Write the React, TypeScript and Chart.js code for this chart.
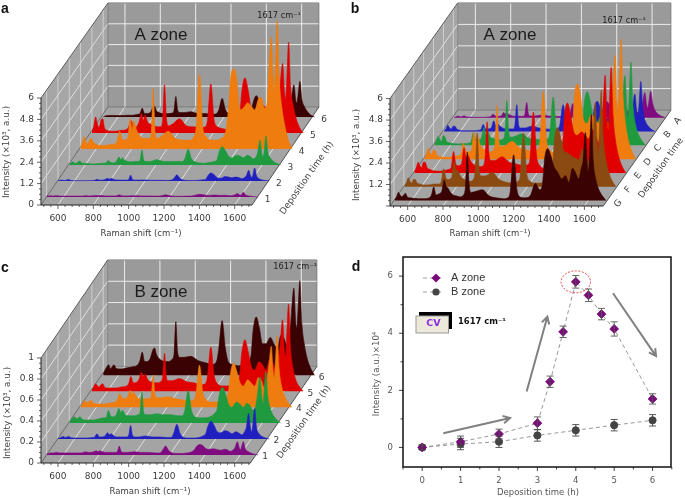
import React, { useEffect, useRef } from "react";
import { Chart, registerables } from "chart.js";

Chart.register(...registerables);

const ramanShift = [
  504, 515, 525, 535, 545, 555, 565, 575, 590,
  610, 640, 670, 700, 712, 725, 738, 750, 770,
  785, 795, 805, 820, 835, 855, 875,
  893, 905, 915, 925, 937,
  960, 1000, 1040, 1080, 1120, 1145,
  1158, 1177, 1196, 1215, 1240,
  1270, 1300, 1325, 1340,
  1352, 1370, 1388, 1405,
  1425, 1450, 1470, 1490, 1510, 1525, 1545, 1560,
  1570, 1583, 1594, 1600, 1606, 1617, 1628, 1642,
  1660, 1680, 1700,
];

// Panel a
const a1 = [.06,.06,.07,.06,.06,.07,.07,.06,.05, .05,.05,.05,.05,.06,.08,.06,.06,.07, .08,.07,.08,.07,.06,.06,.06, .06,.08,.12,.08,.06, .06,.07,.06,.06,.05,.05, .08,.12,.08,.05,.04, .04,.05,.06,.08, .12,.15,.13,.1, .09,.11,.1,.09,.1,.09,.07,.09, .12,.2,.12,.1,.13,.26,.12,.07, .04,.02,0];
const a2 = [.02,.04,.06,.04,.03,.07,.08,.04,.02, .02,.02,.02,.03,.04,.1,.05,.05,.08, .15,.1,.15,.08,.06,.05,.05, .05,.1,.33,.1,.05, .05,.06,.04,.04,.03,.05, .12,.35,.12,.05,.03, .03,.04,.07,.1, .3,.45,.35,.18, .15,.25,.22,.18,.22,.2,.13,.2, .3,.6,.28,.2,.3,.73,.28,.13, .06,.03,0];
const a3 = [.05,.12,.18,.1,.1,.2,.22,.1,.1, .08,.06,.08,.1,.12,.25,.15,.12,.2, .45,.3,.4,.25,.2,.18,.2, .2,.3,.84,.3,.2, .2,.3,.2,.2,.2,.2, .35,.88,.35,.18,.12, .1,.15,.2,.3, .75,1.03,.8,.5, .4,.55,.5,.4,.55,.5,.35,.45, .7,1.4,.6,.45,.7,1.63,.7,.4, .2,.08,0];
const a4 = [.1,.4,.7,.4,.3,.5,.6,.4,.3, .2,.2,.25,.3,.5,1.0,.6,.5,.6, 1.7,1.1,1.6,1.1,.8,.6,.6, .6,1.0,3.4,1.0,.6, .7,1.0,.6,.5,.5,.7, 1.2,4.2,1.2,.7,.5, .5,.6,1.0,2.2, 3.9,4.5,3.9,2.2, 2.3,2.6,2.4,2.2,2.8,2.9,2.3,2.6, 4.5,6.3,4,3.2,4.5,7.2,4.0,2.4, 1.3,.5,.05];
const a5 = [.05,.4,.9,.5,.3,.7,.8,.3,.15, .1,.1,.15,.2,.35,.7,.4,.3,.6, 1.1,.7,1.0,.6,.5,.4,.35, .35,.8,2.7,.9,.4, .5,.8,.4,.35,.3,.35, .7,2.75,.7,.35,.25, .2,.3,.6,.9, 2.3,3.1,2.4,1.4, 1.2,1.7,1.6,1.4,2.0,1.9,1.5,1.7, 2.8,3.9,2.3,1.9,2.8,5.1,2.6,1.6, .8,.3,0];
const a6 = [.02,.05,.08,.08,.1,.08,.1,.08,.08, .08,.1,.1,.15,.2,.5,.2,.2,.25, .55,.6,.35,.25,.2,.18,.2, .22,.4,1.15,.4,.25, .25,.3,.2,.2,.15,.2, .4,1.05,.4,.2,.15, .12,.15,.2,.3, .8,1.2,.9,.5, .5,.6,.55,.5,.8,.7,.55,.7, 1.1,1.8,.9,.8,1.2,2.0,1.0,.6, .3,.1,0];

// Panel b
const bG = [.05,.2,.45,.3,.2,.3,.4,.2,.15, .12,.1,.1,.15,.3,.75,.3,.35,.5, 1.15,.8,.7,.45,.3,.25,.2, .3,.8,2.7,.9,.45, .5,.6,.25,.15,.1,.15, .5,2.55,.6,.2,.15, .25,.95,.6,.9, 2.3,2.9,2.5,1.9, 1.6,1.2,1.4,1.0,1.8,1.6,1.2,1.8, 2.2,3.8,2.0,1.6,2.4,4.8,2.2,1.2, .6,.25,0];
const bF = [.05,.2,.5,.3,.2,.4,.4,.2,.15, .1,.1,.15,.15,.3,1.0,.5,.4,.5, 1.4,.9,.9,.6,.45,.35,.3, .4,1.0,3.0,1.1,.6, .6,.8,.4,.25,.2,.3, .6,3.0,.7,.3,.2, .2,.3,.6,1.0, 2.6,3.3,2.7,2.0, 1.9,1.7,1.6,1.5,2.1,1.9,1.4,2.0, 2.6,4.7,2.4,1.9,3.0,5.4,2.8,1.6, .8,.3,0];
const bE = [.05,.3,.6,.4,.3,.6,.6,.3,.2, .12,.1,.12,.2,.3,1.2,.5,.4,.5, 1.4,.9,1.0,.7,.5,.4,.35, .4,1.0,2.85,1.1,.7, .7,.9,.6,.5,.4,.45, .8,3.4,.9,.4,.25, .25,.3,.8,1.2, 3.1,3.9,3.2,2.3, 2.1,2.3,2.1,1.9,2.4,2.2,1.7,2.4, 3.4,5.45,3.0,2.4,3.5,5.9,3.2,1.8, .9,.35,0];
const bD = [.05,.25,.6,.35,.25,.5,.5,.25,.15, .1,.1,.15,.2,.3,.9,.5,.4,.5, 1.5,1.0,1.3,.8,.6,.5,.4, .5,1.0,3.0,1.1,.7, .75,1.0,.65,.5,.45,.55, 1.0,3.8,1.0,.5,.35, .3,.5,.8,1.3, 3.4,4.2,3.5,2.2, 2.0,2.5,2.2,2.0,2.6,2.5,1.9,2.5, 3.8,5.8,3.2,2.6,3.8,6.7,3.6,2.0, 1.0,.4,0];
const bC = [.05,.2,.5,.35,.2,.55,.45,.2,.15, .1,.08,.1,.12,.2,.7,.35,.3,.4, 1.0,.6,.8,.5,.4,.35,.3, .35,.8,2.5,.8,.45, .5,.65,.4,.35,.3,.35, .7,2.7,.7,.3,.2, .2,.3,.55,.9, 2.3,3.0,2.4,1.5, 1.3,1.7,1.5,1.3,1.8,1.7,1.2,1.7, 2.6,3.9,2.1,1.6,2.5,4.65,2.3,1.2, .6,.25,0];
const bB = [.03,.15,.35,.2,.15,.3,.3,.15,.08, .05,.05,.05,.08,.12,.4,.15,.15,.2, .6,.35,.45,.3,.2,.15,.15, .15,.4,1.5,.4,.2, .2,.3,.2,.15,.12,.15, .35,1.5,.35,.15,.1, .08,.12,.25,.4, 1.2,1.7,1.3,.8, .7,.9,.8,.7,1.0,.9,.6,.9, 1.4,2.1,1.1,.9,1.4,2.8,1.3,.6, .3,.1,0];
const bA = [.02,.05,.1,.07,.05,.1,.1,.05,.04, .03,.03,.03,.05,.08,.2,.1,.08,.1, .3,.2,.25,.15,.1,.08,.08, .08,.2,.85,.2,.1, .1,.15,.1,.08,.06,.08, .2,.8,.2,.08,.05, .05,.07,.12,.2, .6,.9,.65,.4, .35,.45,.4,.35,.5,.45,.3,.45, .75,1.4,.7,.55,.85,1.5,.8,.4, .2,.08,0];

// Panel c
const c1 = [.01,.015,.02,.02,.02,.025,.025,.02,.02, .02,.02,.02,.02,.025,.03,.025,.025,.03, .04,.03,.04,.03,.025,.025,.025, .025,.035,.085,.035,.025, .025,.03,.025,.025,.02,.02, .04,.085,.04,.02,.015, .015,.02,.03,.05, .08,.1,.09,.06, .055,.06,.05,.045,.055,.05,.035,.05, .07,.127,.07,.05,.07,.127,.06,.035, .02,.008,0];
const c2 = [.005,.01,.02,.025,.015,.02,.025,.015,.01, .01,.01,.01,.015,.02,.05,.02,.02,.03, .06,.04,.05,.03,.02,.02,.02, .02,.04,.13,.04,.02, .02,.03,.02,.02,.015,.015, .05,.14,.05,.015,.01, .01,.015,.03,.05, .12,.17,.13,.07, .06,.08,.07,.05,.07,.06,.04,.07, .11,.245,.1,.07,.12,.29,.11,.05, .025,.01,0];
const c3 = [.01,.03,.05,.06,.04,.05,.06,.04,.03, .03,.03,.04,.05,.05,.12,.07,.06,.08, .14,.1,.12,.08,.07,.07,.07, .08,.1,.3,.1,.08, .08,.09,.08,.08,.07,.07, .12,.31,.12,.06,.05, .05,.06,.09,.13, .26,.34,.28,.18, .15,.2,.18,.15,.19,.17,.12,.17, .28,.44,.24,.18,.28,.49,.25,.14, .07,.03,0];
const c4 = [.01,.03,.06,.05,.04,.06,.06,.04,.03, .03,.03,.04,.05,.07,.13,.09,.08,.1, .16,.12,.14,.1,.08,.08,.08, .08,.12,.3,.12,.09, .09,.1,.08,.07,.06,.07, .14,.4,.14,.07,.05, .05,.06,.09,.14, .32,.42,.34,.24, .2,.26,.23,.2,.28,.26,.18,.28, .4,.58,.34,.28,.42,.68,.36,.2, .1,.04,0];
const c5 = [.01,.04,.07,.05,.04,.06,.07,.04,.03, .03,.03,.04,.05,.07,.14,.08,.08,.11, .18,.14,.16,.11,.09,.08,.08, .09,.14,.36,.14,.1, .1,.12,.09,.08,.06,.07, .14,.42,.15,.07,.05, .05,.06,.1,.15, .36,.49,.38,.24, .2,.28,.25,.2,.3,.28,.2,.3, .45,.68,.38,.33,.5,.83,.42,.22, .1,.04,0];
const c6 = [.01,.05,.08,.1,.06,.08,.1,.07,.06, .06,.07,.08,.1,.14,.22,.13,.13,.16, .24,.26,.2,.16,.14,.13,.13, .15,.2,.51,.22,.17, .17,.18,.14,.12,.1,.13, .25,.52,.25,.12,.1, .09,.1,.13,.18, .42,.555,.45,.3, .3,.36,.3,.26,.38,.36,.28,.4, .6,.83,.5,.45,.6,.9,.5,.3, .15,.06,0];

// Panel d
const timeA = [0, 1, 2, 3, 3.33, 3.67, 4, 4.33, 4.67, 5, 6];
const intensityA = [0, 0.2, 0.47, 0.85, 2.3, 4.05, 5.8, 5.33, 4.67, 4.15, 1.7];
const errorA = [0.08, 0.2, 0.17, 0.22, 0.2, 0.2, 0.22, 0.22, 0.2, 0.25, 0.18];
const timeB = [0, 1, 2, 3, 4, 5, 6];
const intensityB = [0, 0.12, 0.2, 0.42, 0.6, 0.78, 0.95];
const errorB = [0.08, 0.2, 0.2, 0.2, 0.2, 0.2, 0.2];
const arrowsD = [
  [0.55, 0.5, 2.29, 1.03],
  [2.72, 1.96, 3.26, 4.58],
  [4.97, 5.4, 6.09, 3.2],
];

const xTicks3d = [600, 800, 1000, 1200, 1400, 1600];
const yTicksAB = [0, 1.2, 2.4, 3.6, 4.8, 6];
const yTicksB = [1.2, 2.4, 3.6, 4.8, 6];
const yTicksC = [0, 0.2, 0.4, 0.6, 0.8, 1];
const xTicksD = [0, 1, 2, 3, 4, 5, 6];
const yTicksD = [0, 2, 4, 6];

const PURPLE = "#800a80";
const BLUE = "#2020c0";
const GREEN = "#1f9a3e";
const ORANGE = "#ee7c0e";
const RED = "#e00000";
const BROWN = "#8a4a12";
const MAROON = "#3a0202";
const TEXT = "#3c3c3c";
const SANS = "'DejaVu Sans'";

type Layer = { label: string; color: string; values: number[] };
type Panel = {
  letter: string; zone: string; left: number; top: number; w: number; h: number;
  plot: { l: number; r: number; t: number; b: number };
  xMin: number; xMax: number; yMax: number;
  wallX: number; wallY: number; stepX: number; stepY: number; first: number;
  yTicks: number[]; yGrid: number[]; yMinor: number;
  layers: Layer[];
  labelDx: number; labelDy: number; labelAngle: number;
  depthTitle: string; depthPos: [number, number];
  peakPos: [number, number]; zonePos: [number, number]; letterPos: [number, number];
  xTitlePos: [number, number]; yTitlePos: [number, number];
};

const panelA: Panel = {
  letter: "a", zone: "A zone", left: 0, top: 0, w: 345, h: 245,
  plot: { l: 41, r: 319, t: 3, b: 205 },
  xMin: 504, xMax: 2077, yMax: 11.33,
  wallX: 379, wallY: 5.5, stepX: 64, stepY: 0.897, first: 0.5,
  yTicks: yTicksAB, yGrid: yTicksAB, yMinor: 0.3,
  layers: [
    { label: "1", color: PURPLE, values: a1 }, { label: "2", color: BLUE, values: a2 },
    { label: "3", color: GREEN, values: a3 }, { label: "4", color: ORANGE, values: a4 },
    { label: "5", color: RED, values: a5 }, { label: "6", color: MAROON, values: a6 },
  ],
  labelDx: 10, labelDy: 3, labelAngle: 0,
  depthTitle: "Deposition time (h)", depthPos: [307, 178],
  peakPos: [279, 16], zonePos: [161, 35], letterPos: [5, 9],
  xTitlePos: [141, 234], yTitlePos: [7, 152],
};

const panelB: Panel = {
  letter: "b", zone: "A zone", left: 345, top: 0, w: 340, h: 245,
  plot: { l: 45, r: 326, t: 3, b: 206 },
  xMin: 500, xMax: 2090, yMax: 11.34,
  wallX: 383, wallY: 5.36, stepX: 56, stepY: 0.77, first: 0.4,
  yTicks: yTicksB, yGrid: yTicksAB, yMinor: 0.3,
  layers: [
    { label: "G", color: MAROON, values: bG }, { label: "F", color: BROWN, values: bF },
    { label: "E", color: RED, values: bE }, { label: "D", color: ORANGE, values: bD },
    { label: "C", color: GREEN, values: bC }, { label: "B", color: BLUE, values: bB },
    { label: "A", color: PURPLE, values: bA },
  ],
  labelDx: 11, labelDy: 3, labelAngle: -50,
  depthTitle: "Deposition time", depthPos: [316, 168],
  peakPos: [279, 21], zonePos: [165, 35], letterPos: [10, 9],
  xTitlePos: [145, 234], yTitlePos: [12, 155],
};

const panelC: Panel = {
  letter: "c", zone: "B zone", left: 0, top: 250, w: 345, h: 248,
  plot: { l: 41, r: 317, t: 10, b: 213 },
  xMin: 504, xMax: 2066, yMax: 1.933,
  wallX: 377, wallY: 0.92, stepX: 64, stepY: 0.152, first: 0.5,
  yTicks: yTicksC, yGrid: yTicksC, yMinor: 0.05,
  layers: [
    { label: "1", color: PURPLE, values: c1 }, { label: "2", color: BLUE, values: c2 },
    { label: "3", color: GREEN, values: c3 }, { label: "4", color: ORANGE, values: c4 },
    { label: "5", color: RED, values: c5 }, { label: "6", color: MAROON, values: c6 },
  ],
  labelDx: 9, labelDy: 2, labelAngle: 0,
  depthTitle: "Deposition time (h)", depthPos: [304, 172],
  peakPos: [295, 17], zonePos: [161, 42], letterPos: [5, 18],
  xTitlePos: [150, 242], yTitlePos: [8, 163],
};

function text(ctx: CanvasRenderingContext2D, s: string, x: number, y: number, font: string, color: string, angle = 0, align: CanvasTextAlign = "center") {
  ctx.save();
  ctx.translate(x, y);
  ctx.rotate((angle * Math.PI) / 180);
  ctx.font = font;
  ctx.fillStyle = color;
  ctx.textAlign = align;
  ctx.textBaseline = "middle";
  ctx.fillText(s, 0, 0);
  ctx.restore();
}

function range(from: number, to: number, step: number) {
  const out: number[] = [];
  for (let i = 0; from + i * step <= to + 1e-6; i++) out.push(from + i * step);
  return out;
}

function noPadding(s: any) {
  s.paddingTop = 0; s.paddingBottom = 0; s.paddingLeft = 0; s.paddingRight = 0;
}

function make3d(p: Panel, canvas: HTMLCanvasElement) {
  const front = p.xMin;
  const frontRight = p.xMax - p.wallX;
  const depthOf = (i: number) => p.first + i;
  const wallsPlugin = {
    id: "walls",
    beforeDatasetsDraw(chart: any) {
      const { ctx } = chart;
      const X = (v: number) => chart.scales.x.getPixelForValue(v);
      const Y = (v: number) => chart.scales.y.getPixelForValue(v);
      const poly = (pts: number[][], fill: string) => {
        ctx.beginPath();
        pts.forEach(([a, b], i) => (i ? ctx.lineTo(X(a), Y(b)) : ctx.moveTo(X(a), Y(b))));
        ctx.closePath();
        ctx.fillStyle = fill;
        ctx.fill();
      };
      const line = (a: number, b: number, c: number, d: number, color: string, w: number) => {
        ctx.beginPath();
        ctx.moveTo(X(a), Y(b));
        ctx.lineTo(X(c), Y(d));
        ctx.strokeStyle = color;
        ctx.lineWidth = w;
        ctx.stroke();
      };
      const top = p.yTicks[p.yTicks.length - 1];
      const W = p.wallX, H = p.wallY;
      const backTop = p.yMax;
      const backScale = (backTop - H) / top;
      poly([[front + W, H], [frontRight + W, H], [frontRight + W, backTop], [front + W, backTop]], "#9a9a9a");
      poly([[front, 0], [front + W, H], [front + W, backTop], [front, top]], "#a6a6a6");
      poly([[front, 0], [frontRight, 0], [frontRight + W, H], [front + W, H]], "#a4a4a4");
      const span = frontRight - front;
      for (const v of xTicks3d) {
        line(v + W, H, v + W, backTop, "#ececec", 1);
        line(v, 0, v + W, H, "#e6e6e6", 0.9);
      }
      for (const v of p.yGrid) {
        if (v === 0) continue;
        line(front + W, H + v * backScale, front + W + span, H + v * backScale, "#ececec", 1);
        line(front, v, front + W, H + v * backScale, "#e6e6e6", 0.9);
      }
      p.layers.forEach((_, i) => {
        const f = depthOf(i) * p.stepX / W;
        const dx = depthOf(i) * p.stepX, dy = depthOf(i) * p.stepY;
        line(front + dx, dy, front + dx, top + f * (backTop - top), "#d8d8d8", 0.8);
      });
      line(front, top, front + W, backTop, "#333", 0.8);
      line(front + W, backTop, front + W + span, backTop, "#555", 0.8);
      line(front + W + span, H, front + W + span, backTop, "#666", 0.6);
      line(front + W, H, front + W, backTop, "#666", 0.6);
      line(front + W, H, front + W + span, H, "#666", 0.6);
      line(frontRight, 0, frontRight + W, H, "#333", 0.8);
      line(front, 0, front + W, H, "#333", 0.6);
      line(front, 0, front, top, "#222", 1);
      line(front, 0, frontRight, 0, "#222", 1);
      ctx.strokeStyle = "#222";
      ctx.lineWidth = 0.7;
      const b = Y(0), l = X(front);
      for (const v of range(520, frontRight, 40)) {
        const major = xTicks3d.includes(v);
        ctx.beginPath(); ctx.moveTo(X(v), b); ctx.lineTo(X(v), b + (major ? 4 : 2)); ctx.stroke();
      }
      for (const v of range(0, top, p.yMinor)) {
        const major = p.yGrid.some((t) => Math.abs(t - v) < 1e-6);
        ctx.beginPath(); ctx.moveTo(l, Y(v)); ctx.lineTo(l - (major ? 4 : 2), Y(v)); ctx.stroke();
      }
    },
    afterDraw(chart: any) {
      const { ctx } = chart;
      const X = (v: number) => chart.scales.x.getPixelForValue(v);
      const Y = (v: number) => chart.scales.y.getPixelForValue(v);
      p.layers.forEach((l, i) => {
        const dx = depthOf(i) * p.stepX, dy = depthOf(i) * p.stepY;
        text(ctx, l.label, X(frontRight + dx) + p.labelDx, Y(dy) + p.labelDy, `9px ${SANS}`, TEXT, p.labelAngle);
      });
      text(ctx, p.depthTitle, p.depthPos[0], p.depthPos[1], `9px ${SANS}`, TEXT, -55);
      text(ctx, "1617 cm⁻¹", p.peakPos[0], p.peakPos[1], `8.2px ${SANS}`, "#222");
      text(ctx, p.zone, p.zonePos[0], p.zonePos[1], `17px 'Liberation Sans'`, "#1c1c1c");
      text(ctx, p.letter, p.letterPos[0], p.letterPos[1], `bold 14px 'Liberation Sans'`, "#111");
      text(ctx, "Raman shift (cm⁻¹)", p.xTitlePos[0], p.xTitlePos[1], `8.5px ${SANS}`, TEXT);
      text(ctx, "Intensity (×10³, a.u.)", p.yTitlePos[0], p.yTitlePos[1], `8.8px ${SANS}`, TEXT, -90);
    },
  };
  return new Chart(canvas, {
    type: "line",
    data: {
      datasets: p.layers.map((l, i) => ({
        label: l.label,
        data: l.values.map((v, j) => ({ x: ramanShift[j] + depthOf(i) * p.stepX, y: v + depthOf(i) * p.stepY })),
        borderColor: l.color,
        backgroundColor: l.color,
        borderWidth: 0.6,
        pointRadius: 0,
        cubicInterpolationMode: "monotone",
        clip: false,
        fill: { value: depthOf(i) * p.stepY },
      })),
    },
    options: {
      animation: false,
      responsive: false,
      layout: { autoPadding: false, padding: { top: p.plot.t, right: p.w - p.plot.r, left: 0, bottom: 0 } },
      plugins: { legend: { display: false }, tooltip: { enabled: false } },
      scales: {
        x: {
          type: "linear", min: p.xMin, max: p.xMax,
          grid: { display: false, drawTicks: false }, border: { display: false },
          afterBuildTicks: (s: any) => { s.ticks = xTicks3d.map((value) => ({ value })); },
          afterFit: (s: any) => { s.height = p.h - p.plot.b; noPadding(s); },
          ticks: { autoSkip: false, maxRotation: 0, padding: 8, color: TEXT, font: { family: "DejaVu Sans", size: 9 }, callback: (v: any) => String(v) },
        },
        y: {
          type: "linear", min: 0, max: p.yMax,
          grid: { display: false, drawTicks: false }, border: { display: false },
          afterBuildTicks: (s: any) => { s.ticks = p.yTicks.map((value) => ({ value })); },
          afterFit: (s: any) => { s.width = p.plot.l; noPadding(s); },
          ticks: { autoSkip: false, padding: 7, color: TEXT, font: { family: "DejaVu Sans", size: 9 }, callback: (v: any) => String(v) },
        },
      },
    } as any,
    plugins: [wallsPlugin as any],
  });
}

function makeD(canvas: HTMLCanvasElement) {
  const plugin = {
    id: "decor",
    beforeDatasetsDraw(chart: any) {
      const { ctx } = chart;
      const X = (v: number) => chart.scales.x.getPixelForValue(v);
      const Y = (v: number) => chart.scales.y.getPixelForValue(v);
      ctx.save();
      ctx.strokeStyle = "#808080";
      ctx.lineWidth = 2;
      for (const [a, b, c, d] of arrowsD) {
        const x0 = X(a), y0 = Y(b), x1 = X(c), y1 = Y(d);
        const ang = Math.atan2(y1 - y0, x1 - x0);
        ctx.beginPath(); ctx.moveTo(x0, y0); ctx.lineTo(x1, y1);
        ctx.moveTo(x1 - 8 * Math.cos(ang - 0.5), y1 - 8 * Math.sin(ang - 0.5));
        ctx.lineTo(x1, y1);
        ctx.lineTo(x1 - 8 * Math.cos(ang + 0.5), y1 - 8 * Math.sin(ang + 0.5));
        ctx.stroke();
      }
      ctx.restore();
    },
    afterDatasetsDraw(chart: any) {
      const { ctx } = chart;
      const X = (v: number) => chart.scales.x.getPixelForValue(v);
      const Y = (v: number) => chart.scales.y.getPixelForValue(v);
      const bars = (ts: number[], vs: number[], es: number[], color: string) => {
        ctx.strokeStyle = color;
        ctx.lineWidth = 0.9;
        ts.forEach((t, i) => {
          const x = X(t), t1 = Y(vs[i] + es[i]), t2 = Y(vs[i] - es[i]);
          ctx.beginPath();
          ctx.moveTo(x, t1); ctx.lineTo(x, t2);
          ctx.moveTo(x - 3.5, t1); ctx.lineTo(x + 3.5, t1);
          ctx.moveTo(x - 3.5, t2); ctx.lineTo(x + 3.5, t2);
          ctx.stroke();
        });
      };
      bars(timeA, intensityA, errorA, "#555");
      bars(timeB, intensityB, errorB, "#444");
      ctx.save();
      ctx.strokeStyle = "#e02020";
      ctx.lineWidth = 0.8;
      ctx.setLineDash([2, 1.5]);
      ctx.beginPath();
      ctx.ellipse(X(timeA[6]), Y(intensityA[6]), 14.7, 11, 0, 0, Math.PI * 2);
      ctx.stroke();
      ctx.restore();
      const legend: [string, string, number, boolean][] = [["A zone", "#7a0a7a", 278, true], ["B zone", "#444444", 292, false]];
      for (const [label, color, y, diamond] of legend) {
        const ly = y - 250;
        ctx.save();
        ctx.strokeStyle = "#888";
        ctx.lineWidth = 0.8;
        ctx.setLineDash([4, 3]);
        ctx.beginPath(); ctx.moveTo(78, ly); ctx.lineTo(97, ly); ctx.stroke();
        ctx.restore();
        ctx.fillStyle = color;
        ctx.beginPath();
        if (diamond) { ctx.moveTo(91, ly - 4.5); ctx.lineTo(95.5, ly); ctx.lineTo(91, ly + 4.5); ctx.lineTo(86.5, ly); ctx.closePath(); }
        else ctx.arc(91, ly, 3.6, 0, Math.PI * 2);
        ctx.fill();
        text(ctx, label, 106, ly, `11px 'Liberation Sans'`, "#333", 0, "left");
      }
      ctx.fillStyle = "#000";
      ctx.fillRect(74, 62, 33, 17);
      ctx.fillStyle = "#ece8da";
      ctx.strokeStyle = "#999";
      ctx.lineWidth = 1;
      ctx.fillRect(71, 66, 32.5, 17);
      ctx.strokeRect(71, 66, 32.5, 17);
      text(ctx, "CV", 88.5, 73.5, `bold 9.5px ${SANS}`, "#8a2be2");
      text(ctx, "1617 cm⁻¹", 137, 71.5, `bold 8.4px ${SANS}`, "#111");
      text(ctx, "d", 11, 17, `bold 14px 'Liberation Sans'`, "#111");
      text(ctx, "Intensity (a.u.)×10⁴", 32, 124, `8.6px ${SANS}`, "#555", -90);
      text(ctx, "Deposition time (h)", 193, 243, `8.5px ${SANS}`, "#555");
      const area = chart.chartArea;
      ctx.strokeStyle = "#111";
      ctx.lineWidth = 1.5;
      ctx.strokeRect(area.left, area.top, area.right - area.left, area.bottom - area.top);
      ctx.lineWidth = 0.8;
      for (const v of range(-0.5, 6.5, 0.5)) {
        const major = Number.isInteger(v);
        ctx.beginPath(); ctx.moveTo(X(v), area.bottom); ctx.lineTo(X(v), area.bottom + (major ? 4 : 2.5)); ctx.stroke();
      }
      for (const v of range(0, 6, 1)) {
        const major = v % 2 === 0;
        ctx.beginPath(); ctx.moveTo(area.left, Y(v)); ctx.lineTo(area.left - (major ? 4 : 2.5), Y(v)); ctx.stroke();
      }
    },
  };
  return new Chart(canvas, {
    type: "line",
    data: {
      datasets: [
        {
          label: "A zone",
          data: timeA.map((x, i) => ({ x, y: intensityA[i] })),
          borderColor: "#8c8c8c", borderWidth: 0.9, borderDash: [4, 3],
          pointStyle: "rectRot", pointRadius: 4.4, pointBackgroundColor: "#7a0a7a", pointBorderColor: "#7a0a7a", tension: 0,
        },
        {
          label: "B zone",
          data: timeB.map((x, i) => ({ x, y: intensityB[i] })),
          borderColor: "#8c8c8c", borderWidth: 0.9, borderDash: [4, 3],
          pointStyle: "circle", pointRadius: 3.6, pointBackgroundColor: "#444", pointBorderColor: "#444", tension: 0,
        },
      ],
    },
    options: {
      animation: false,
      responsive: false,
      layout: { autoPadding: false, padding: { top: 7, right: 14, left: 0, bottom: 0 } },
      plugins: { legend: { display: false }, tooltip: { enabled: false } },
      scales: {
        x: {
          type: "linear", min: -0.5, max: 6.48,
          grid: { display: false, drawTicks: false }, border: { display: false },
          afterBuildTicks: (s: any) => { s.ticks = xTicksD.map((value) => ({ value })); },
          afterFit: (s: any) => { s.height = 31; noPadding(s); },
          ticks: { autoSkip: false, maxRotation: 0, padding: 9, color: "#555", font: { family: "DejaVu Sans", size: 8.5 }, callback: (v: any) => String(v) },
        },
        y: {
          type: "linear", min: -0.685, max: 6.67,
          grid: { display: false, drawTicks: false }, border: { display: false },
          afterBuildTicks: (s: any) => { s.ticks = yTicksD.map((value) => ({ value })); },
          afterFit: (s: any) => { s.width = 58; noPadding(s); },
          ticks: { autoSkip: false, padding: 10, color: "#555", font: { family: "DejaVu Sans", size: 8.5 }, callback: (v: any) => String(v) },
        },
      },
    } as any,
    plugins: [plugin as any],
  });
}

const panels = [panelA, panelB, panelC];

export default function App() {
  const refs = useRef<(HTMLCanvasElement | null)[]>([]);
  useEffect(() => {
    const charts = panels.map((p, i) => make3d(p, refs.current[i]!));
    charts.push(makeD(refs.current[3]!));
    return () => charts.forEach((c) => c.destroy());
  }, []);
  const boxes = [...panels.map((p) => [p.left, p.top, p.w, p.h]), [345, 250, 340, 248]];
  return (
    <div style={{ position: "absolute", left: 0, top: 0, width: 685, height: 498, background: "#fff" }}>
      {boxes.map(([l, t, w, h], i) => (
        <canvas
          key={i}
          ref={(el) => { refs.current[i] = el; }}
          width={w}
          height={h}
          style={{ position: "absolute", left: l, top: t, width: w, height: h, filter: "blur(0.35px)" }}
        />
      ))}
    </div>
  );
}
